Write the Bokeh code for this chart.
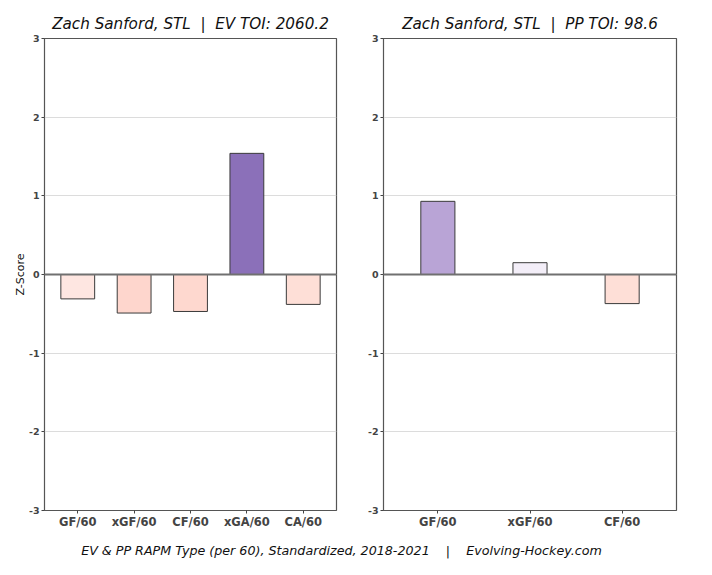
from bokeh.plotting import figure
from bokeh.models import FactorRange, Range1d, FixedTicker, Span, Div
from bokeh.layouts import row, column
from bokeh.embed import file_html
from bokeh.resources import INLINE

player = "Zach Sanford, STL"
ev_toi = 2060.2
pp_toi = 98.6

ev_metrics = ["GF/60", "xGF/60", "CF/60", "xGA/60", "CA/60"]
ev_values = [-0.31, -0.49, -0.47, 1.54, -0.38]
pp_metrics = ["GF/60", "xGF/60", "CF/60"]
pp_values = [0.93, 0.15, -0.37]

ev_colors = ["#fee6e1", "#fed6cd", "#fed8cf", "#8b70b9", "#fedfd7"]
pp_colors = ["#b9a4d6", "#f3eef8", "#fedfd7"]

y_ticks = [-3, -2, -1, 0, 1, 2, 3]
y_tick_labels = {t: str(t) for t in y_ticks}

FONT = "DejaVu Sans"
SP = "\u00a0"


def make_fig(metrics, values, colors, title, bar_width, frame_w, border_left, border_right, ylabel=None):
    p = figure(
        x_range=FactorRange(*metrics, range_padding=0.09, range_padding_units="absolute"),
        y_range=Range1d(-3, 3),
        frame_width=frame_w, frame_height=472,
        min_border_left=border_left, min_border_right=border_right,
        min_border_top=38, min_border_bottom=20,
        output_backend="svg", toolbar_location=None, title=title,
    )
    p.title.text_font = FONT
    p.title.text_font_style = "italic"
    p.title.text_font_size = "15.2px"
    p.title.align = "center"
    p.title.text_color = "#111111"
    p.title.standoff = 12

    p.vbar(x=metrics, top=values, width=bar_width, bottom=0,
           fill_color=colors, line_color="#3a3a3a", line_width=1)

    p.add_layout(Span(location=0, dimension="width", line_color="#707070", line_width=2))

    p.outline_line_color = "#555555"
    p.outline_line_width = 1.2
    p.xgrid.grid_line_color = None
    p.ygrid.grid_line_color = "#dcdcdc"
    p.ygrid.grid_line_width = 1
    p.yaxis.ticker = FixedTicker(ticks=y_ticks)
    p.yaxis.major_label_overrides = y_tick_labels
    p.yaxis.minor_tick_line_color = None

    for ax in (p.xaxis, p.yaxis):
        ax.axis_line_color = None
        ax.major_tick_line_color = "#444444"
        ax.major_tick_out = 3
        ax.major_tick_in = 0
        ax.major_label_text_font = FONT
        ax.major_label_text_font_style = "bold"
        ax.major_label_text_color = "#444444"
    p.xaxis.major_label_standoff = 1
    p.yaxis.major_label_standoff = 2
    p.xaxis.major_label_text_font_size = "11.5px"
    p.yaxis.major_label_text_font_size = "9.5px"
    if ylabel:
        p.yaxis.axis_label = ylabel
        p.yaxis.axis_label_text_font = FONT
        p.yaxis.axis_label_text_font_style = "normal"
        p.yaxis.axis_label_text_font_size = "11px"
        p.yaxis.axis_label_text_color = "#111111"
        p.yaxis.axis_label_standoff = -1
    return p


p1 = make_fig(ev_metrics, ev_values, ev_colors,
              f"{player}{SP}{SP}|{SP}{SP}EV TOI: {ev_toi}",
              0.6, 292, 44, 10, ylabel="Z-Score")
p2 = make_fig(pp_metrics, pp_values, pp_colors,
              f"{player}{SP}{SP}|{SP}{SP}PP TOI: {pp_toi}",
              0.37, 293, 37, 20)

footer = Div(
    text="EV &amp; PP RAPM Type (per 60), Standardized, 2018-2021&nbsp;&nbsp;&nbsp;&nbsp;|&nbsp;&nbsp;&nbsp;&nbsp;Evolving-Hockey.com",
    width=683, height=24, margin=(11, 0, 0, 0),
    styles={"font-family": FONT, "font-style": "italic", "font-size": "12.7px",
            "text-align": "center", "width": "683px", "color": "#111111"},
)

layout = column(row(p1, p2), footer)
open("out.html", "w").write(file_html(layout, INLINE))
